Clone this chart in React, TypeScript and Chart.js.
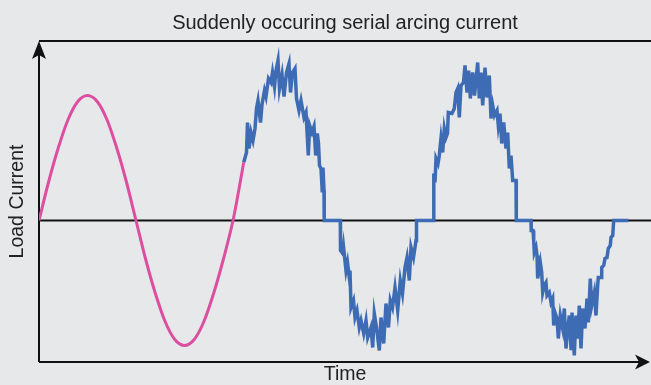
import React, { useEffect, useRef } from "react";
import { Chart, registerables } from "chart.js";

Chart.register(...registerables);

const chartTitle = "Suddenly occuring serial arcing current";
const xAxisLabel = "Time";
const yAxisLabel = "Load Current";

// normal load current before the arc (time in ms, current in A)
const normalTime = [0, 0.97, 1.94, 2.91, 3.88, 4.85, 5.82, 6.79, 7.76, 8.73, 9.7, 10.67, 11.64, 12.61, 13.58, 14.55, 15.52, 16.49, 17.46, 18.43, 19.4, 19.9, 20.47];
const normalCurrent = [0, 3.9, 7.3, 10.1, 11.9, 12.5, 11.9, 10.1, 7.3, 3.9, 0, -3.9, -7.3, -10.1, -11.9, -12.5, -11.9, -10.1, -7.3, -3.9, 0, 2.6, 5.8];

// arcing current
const arcTime = [
  20.47, 20.75, 20.85, 21.0, 21.2, 21.4, 21.6, 21.75, 21.9, 22.15, 22.3, 22.55, 22.7, 22.95, 23.2, 23.35, 23.55, 23.7, 23.9, 24.05,
  24.3, 24.5, 24.75, 25.0, 25.15, 25.35, 25.6, 25.75, 26.0, 26.2, 26.5, 26.7, 26.93, 27.07, 27.3, 27.5, 27.67, 27.83, 27.95, 28.05,
  28.2, 28.33, 28.4, 28.5, 28.52, 30.13, 30.15, 30.37, 30.45, 30.7, 30.85, 31.03, 31.1, 31.2, 31.45, 31.6, 31.8, 32.03, 32.2, 32.47,
  32.7, 32.87, 33.2, 33.37, 33.53, 33.75, 34.03, 34.2, 34.47, 34.7, 34.95, 35.13, 35.35, 35.6, 35.87, 36.13, 36.35, 36.6, 36.8, 37.03,
  37.2, 37.45, 37.7, 37.75, 39.47, 39.48, 39.6, 39.7, 39.9, 40.03, 40.2, 40.37, 40.53, 40.7, 40.85, 40.93, 41.3, 41.53, 41.7, 41.87,
  42.03, 42.2, 42.45, 42.6, 42.8, 42.97, 43.13, 43.37, 43.55, 43.87, 44.03, 44.2, 44.37, 44.6, 44.8, 45.03, 45.2, 45.37, 45.55, 45.8,
  45.93, 46.1, 46.27, 46.47, 46.7, 46.87, 47.03, 47.2, 47.37, 47.7, 47.73, 49.2, 49.22, 49.4, 49.47, 49.53, 49.7, 49.8, 49.87, 50.13,
  50.27, 50.37, 50.53, 50.7, 50.8, 51.03, 51.2, 51.37, 51.47, 51.6, 51.8, 51.93, 52.13, 52.37, 52.53, 52.7, 52.87, 53.03, 53.2, 53.3,
  53.53, 53.7, 53.87, 54.03, 54.2, 54.37, 54.6, 54.8, 54.93, 55.13, 55.27, 55.53, 55.7, 55.87, 55.93, 56.2, 56.27, 56.47, 56.6, 56.8,
  56.93, 57.13, 57.2, 57.37, 57.47, 58.93,
];
const arcCurrent = [
  5.8, 6.8, 9.8, 7.2, 8.8, 8.0, 9.2, 11.2, 12.0, 9.8, 11.6, 13.0, 12.4, 14.2, 13.8, 14.8, 13.4, 15.0, 16.0, 13.2,
  14.6, 12.4, 14.8, 15.7, 12.8, 14.8, 15.2, 12.2, 11.0, 12.0, 10.3, 10.8, 6.5, 9.5, 8.8, 9.4, 6.5, 8.7, 7.7, 5.5,
  5.2, 2.8, 5.3, 3.0, 0, 0, -3.0, -3.3, -2.6, -5.0, -4.2, -5.7, -5.0, -8.7, -8.0, -9.7, -9.0, -10.7, -10.0, -11.3,
  -10.0, -11.7, -10.7, -12.7, -9.3, -10.7, -13.0, -9.7, -12.3, -8.3, -10.7, -8.0, -8.7, -6.7, -9.0, -6.0, -7.3, -4.7, -3.7, -6.0,
  -2.7, -3.7, -2.0, 0, 0, 4.7, 3.8, 6.2, 5.7, 6.5, 8.2, 6.8, 9.2, 8.3, 8.7, 10.8, 10.7, 11.2, 12.8, 13.2,
  10.3, 13.5, 13.8, 15.5, 12.8, 15.0, 12.2, 14.8, 12.5, 15.8, 12.2, 14.8, 11.5, 15.3, 12.3, 14.5, 10.2, 11.5, 10.5, 11.0,
  9.5, 10.7, 7.7, 9.8, 7.2, 8.8, 5.2, 6.5, 4.0, 4.0, 0, 0, -1.0, -1.0, -2.0, -3.2, -2.7, -3.5, -5.8, -4.2,
  -5.2, -7.2, -6.5, -6.2, -7.5, -7.2, -8.2, -7.8, -10.5, -9.2, -9.8, -11.8, -9.5, -10.8, -8.8, -12.8, -10.8, -9.5, -12.8, -9.2,
  -13.5, -9.5, -11.8, -8.5, -12.8, -8.8, -10.8, -7.8, -10.2, -5.8, -8.5, -7.2, -9.5, -6.5, -5.7, -5.7, -4.7, -4.5, -3.8, -3.7,
  -2.8, -2.5, -1.7, -1.5, 0, 0,
];

const BG = "#e7e8ea";
const FONT = '"Liberation Sans", Arial, Helvetica, sans-serif';

const framePlugin = {
  id: "frame",
  beforeDraw(chart: any) {
    const { ctx, width, height } = chart;
    ctx.save();
    ctx.fillStyle = BG;
    ctx.fillRect(0, 0, width, height);
    ctx.restore();
  },
  beforeDatasetsDraw(chart: any) {
    const { ctx, chartArea, scales } = chart;
    const { left, right, top, bottom } = chartArea;
    const y0 = scales.y.getPixelForValue(0);
    ctx.save();
    ctx.strokeStyle = "#111";
    ctx.fillStyle = "#111";
    ctx.lineWidth = 2;
    // top frame line
    ctx.beginPath();
    ctx.moveTo(left, top);
    ctx.lineTo(right, top);
    ctx.stroke();
    // y axis
    ctx.beginPath();
    ctx.moveTo(left, bottom);
    ctx.lineTo(left, top + 12);
    ctx.stroke();
    ctx.beginPath();
    ctx.moveTo(left, top);
    ctx.lineTo(left - 7, top + 18);
    ctx.lineTo(left, top + 14);
    ctx.lineTo(left + 7, top + 18);
    ctx.closePath();
    ctx.fill();
    // x axis
    const tip = right - 1;
    ctx.beginPath();
    ctx.moveTo(left, bottom);
    ctx.lineTo(tip - 10, bottom);
    ctx.stroke();
    ctx.beginPath();
    ctx.moveTo(tip, bottom);
    ctx.lineTo(tip - 15, bottom - 7.5);
    ctx.lineTo(tip - 11, bottom);
    ctx.lineTo(tip - 15, bottom + 7.5);
    ctx.closePath();
    ctx.fill();
    // zero line
    ctx.beginPath();
    ctx.moveTo(left, y0);
    ctx.lineTo(right, y0);
    ctx.stroke();
    // axis labels
    ctx.fillStyle = "#222";
    ctx.font = "19.5px " + FONT;
    ctx.textAlign = "center";
    ctx.textBaseline = "middle";
    ctx.fillText(xAxisLabel, (left + right) / 2, 375);
    ctx.translate(17.5, (top + bottom) / 2);
    ctx.rotate(-Math.PI / 2);
    ctx.fillText(yAxisLabel, 0, 0);
    ctx.restore();
  },
};

export default function App() {
  const canvasRef = useRef<HTMLCanvasElement | null>(null);

  useEffect(() => {
    if (!canvasRef.current) return;
    const normalData = normalTime.map((t, i) => ({ x: t, y: normalCurrent[i] }));
    const arcData = arcTime.map((t, i) => ({ x: t, y: arcCurrent[i] }));
    const chart = new Chart(canvasRef.current, {
      type: "line",
      data: {
        datasets: [
          {
            label: "Normal current",
            data: normalData,
            borderColor: "#dc4fa0",
            borderWidth: 3,
            pointRadius: 0,
            cubicInterpolationMode: "monotone",
            fill: false,
          },
          {
            label: "Arcing current",
            data: arcData,
            borderColor: "#3e6cb4",
            borderWidth: 3.5,
            pointRadius: 0,
            tension: 0,
            fill: false,
          },
        ],
      },
      options: {
        animation: false,
        responsive: true,
        maintainAspectRatio: false,
        layout: { padding: { left: 39, right: 0, top: 0, bottom: 23 } },
        scales: {
          x: { type: "linear", display: false, min: 0, max: 61.2 },
          y: { type: "linear", display: false, min: -14.15, max: 17.95 },
        },
        plugins: {
          legend: { display: false },
          tooltip: { enabled: false },
          title: {
            display: true,
            text: chartTitle,
            color: "#222",
            font: { family: FONT, size: 20, weight: "normal" },
            padding: { top: 11, bottom: 6 },
          },
        },
      },
      plugins: [framePlugin],
    });
    return () => chart.destroy();
  }, []);

  return (
    <div style={{ position: "fixed", left: 0, top: 0, width: 651, height: 385, background: BG }}>
      <canvas ref={canvasRef} />
    </div>
  );
}
